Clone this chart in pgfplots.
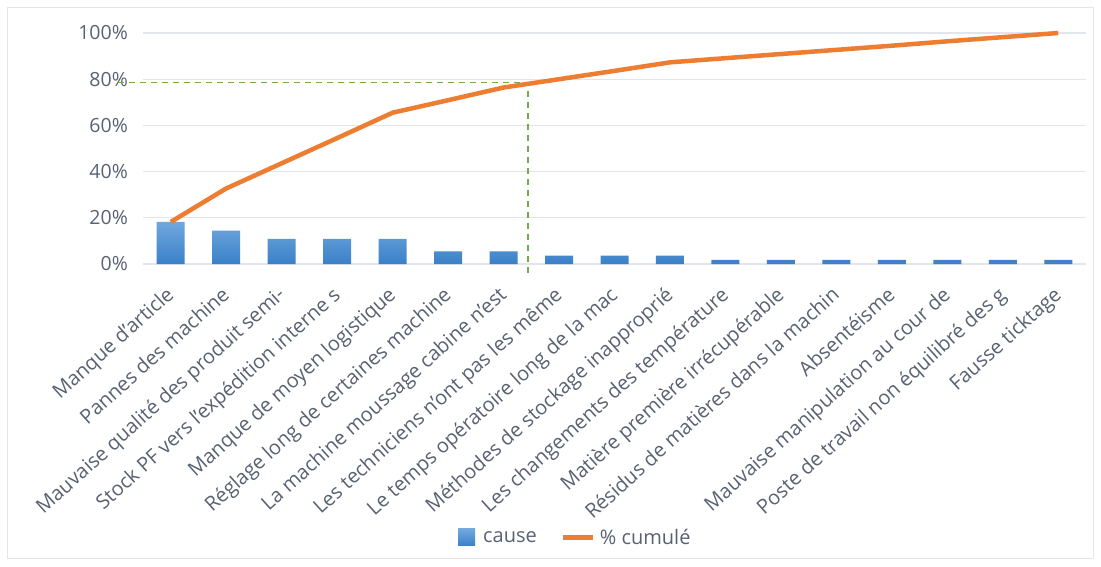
\documentclass[border=0pt]{standalone}
\usepackage{pgfplots}
\pgfplotsset{compat=1.18}
\usepackage{fontspec}
\setmainfont{Open Sans}
\definecolor{txt}{RGB}{89,98,114}
\definecolor{gridc}{RGB}{226,229,235}
\definecolor{barTop}{RGB}{112,168,222}
\definecolor{barBot}{RGB}{58,128,200}
\definecolor{cumul}{RGB}{237,125,49}
\definecolor{vert}{RGB}{112,173,71}
\begin{document}
\begin{tikzpicture}[x=1pt,y=1pt]
\useasboundingbox (0,0) rectangle (1101,566);
\fill[white] (0,0) rectangle (1101,566);
\draw[gray!20, line width=1pt] (7.5,7.5) rectangle (1093.5,558);
\begin{axis}[
  at={(143pt,302pt)}, anchor=south west,
  scale only axis, width=943pt, height=231pt,
  xmin=-0.5, xmax=16.5, ymin=0, ymax=100,
  axis line style={draw=none},
  major tick length=0pt,
  ytick={0,20,40,60,80,100},
  yticklabels={0\%,20\%,40\%,60\%,80\%,100\%},
  ymajorgrids,
  major grid style={draw=gridc, line width=1.2pt},
  xtick={0,...,16},
  xticklabels={
    Manque d’article,
    Pannes des machine,
    Mauvaise qualité des produit semi-,
    Stock PF vers l’expédition interne s,
    Manque de moyen logistique,
    Réglage long de certaines machine,
    La machine moussage cabine n’est,
    Les techniciens n’ont pas les même,
    Le temps opératoire long de la mac,
    Méthodes de stockage inapproprié,
    Les changements des température,
    Matière première irrécupérable,
    Résidus de matières dans la machin,
    Absentéisme,
    Mauvaise manipulation au cour de,
    Poste de travail non équilibré des g,
    Fausse ticktage},
  tick label style={text=txt},
  yticklabel style={font=\fontsize{19.5}{22}\selectfont, anchor=east, inner sep=0pt, xshift=-15pt},
  xticklabel style={xshift=-6pt, yshift=-21pt, font=\fontsize{20}{23}\selectfont, rotate=42, anchor=north east, inner sep=0pt},
  clip=false,
  legend style={draw=none, fill=none, legend columns=-1,
    at={(axis description cs:0.4585,-1.186)}, anchor=center,
    font=\fontsize{20}{23}\selectfont, text=txt,
    /tikz/every odd column/.append style={column sep=2pt},
    /tikz/every even column/.append style={column sep=22pt}},
]
\addplot[ybar, bar width=28pt, draw=none, top color=barTop, bottom color=barBot,
  legend image code/.code={\path (0pt,0pt) -- (21pt,0pt);\fill[top color=barTop,bottom color=barBot] (0pt,-8pt) rectangle (17pt,9pt);}]
  coordinates {(0,18.2) (1,14.5) (2,10.9) (3,10.9) (4,10.9) (5,5.5) (6,5.5) (7,3.6) (8,3.6) (9,3.6)
               (10,1.8) (11,1.8) (12,1.8) (13,1.8) (14,1.8) (15,1.8) (16,1.8)};
\addlegendentry{cause}
\addplot[vert, line width=1.6pt, dash pattern=on 6pt off 5pt, forget plot]
  coordinates {(-0.95,78.6) (6.436,78.6) (6.436,-5.6)};
\addplot[cumul, line width=4.5pt, mark=none,
  legend image code/.code={\draw[cumul, line width=5pt] (0pt,0pt) -- (30pt,0pt);}]
  coordinates {(0,18.2) (1,32.7) (2,43.6) (3,54.5) (4,65.5) (5,70.9) (6,76.4) (7,80.0) (8,83.6)
               (9,87.3) (10,89.1) (11,90.9) (12,92.7) (13,94.5) (14,96.4) (15,98.2) (16,100)};
\addlegendentry{\% cumulé}
\end{axis}
\end{tikzpicture}
\end{document}
